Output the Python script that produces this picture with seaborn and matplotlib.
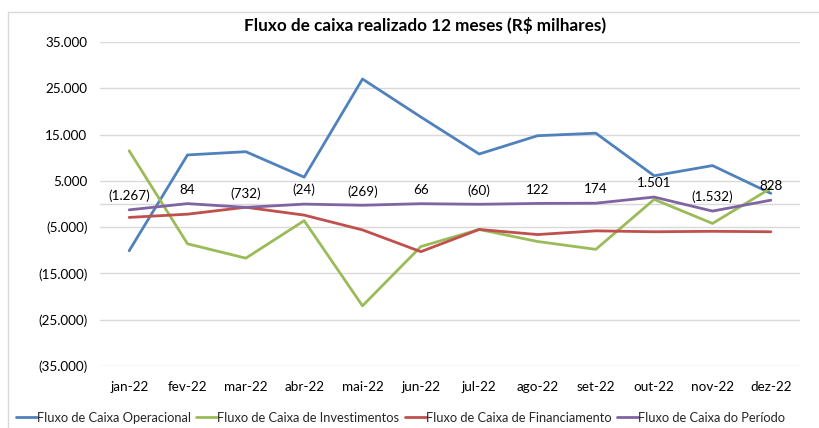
import matplotlib
matplotlib.use("Agg")
import matplotlib.pyplot as plt
import matplotlib.ticker as mticker
from matplotlib.lines import Line2D
import seaborn as sns
import pandas as pd

months = ["jan-22", "fev-22", "mar-22", "abr-22", "mai-22", "jun-22",
          "jul-22", "ago-22", "set-22", "out-22", "nov-22", "dez-22"]
operacional = [-10100, 10600, 11300, 5800, 27000, 18800, 10800, 14750, 15300, 6100, 8300, 2300]
investimentos = [11500, -8600, -11700, -3600, -22000, -9200, -5500, -8100, -9800, 1000, -4200, 3400]
financiamento = [-2900, -2200, -700, -2400, -5600, -10300, -5500, -6600, -5800, -6000, -5900, -6000]
periodo = [-1267, 84, -732, -24, -269, 66, -60, 122, 174, 1501, -1532, 828]

series_names = ["Fluxo de Caixa Operacional", "Fluxo de Caixa de Investimentos",
                "Fluxo de Caixa de Financiamento", "Fluxo de Caixa do Período"]
colors = ["#4F81BD", "#9BBB59", "#C0504D", "#8064A2"]
title = "Fluxo de caixa realizado 12 meses (R$ milhares)"
yticks = [35000, 25000, 15000, 5000, -5000, -15000, -25000, -35000]

rows = []
for name, vals in zip(series_names, [operacional, investimentos, financiamento, periodo]):
    for m, v in zip(months, vals):
        rows.append({"mes": m, "valor": v, "serie": name})
df = pd.DataFrame(rows)

sns.set_theme(style="white")
plt.rcParams["font.family"] = ["Lato", "DejaVu Sans"]

fig = plt.figure(figsize=(8.2, 4.28), dpi=100)
ax = fig.add_axes([100/820, 1-366/428, 700/820, (366-42)/428])

# gridlines
for t in yticks:
    ax.axhline(t, color="#D9D9D9", lw=1.0, zorder=0)
ax.axhline(0, color="#D9D9D9", lw=1.0, zorder=0)

sns.lineplot(data=df, x="mes", y="valor", hue="serie", hue_order=series_names,
             palette=colors, sort=False, linewidth=2.0, ax=ax, legend=False, zorder=3)

for i, v in enumerate(periodo):
    if v < 0:
        s = "({:,})".format(-v).replace(",", ".")
    else:
        s = "{:,}".format(v).replace(",", ".")
    ax.annotate(s, xy=(i, v), xytext=(0, 10), textcoords="offset points",
                ha="center", va="center", fontsize=9.7, color="#000000", zorder=5)

ax.set_xlim(-0.5, 11.5)
ax.set_ylim(-35000, 35000)
ax.set_yticks(yticks)
def fmt(v, pos):
    v = int(round(v))
    s = "{:,}".format(abs(v)).replace(",", ".")
    return "({})".format(s) if v < 0 else s
ax.yaxis.set_major_formatter(mticker.FuncFormatter(fmt))
ax.set_xlabel("")
ax.set_ylabel("")
for sp in ax.spines.values():
    sp.set_visible(False)
ax.tick_params(axis="y", length=0, pad=9, labelsize=9.7, labelcolor="#000000")
ax.tick_params(axis="x", length=0, pad=11, labelsize=9.7, labelcolor="#000000")
ax.grid(False)

fig.text(425/820, 1-25/428, title, ha="center", va="center", fontsize=12.3,
         fontweight="bold", color="#000000")

handles = [Line2D([0], [0], color=c, lw=2.0) for c in colors]
fig.legend(handles, series_names, loc="center left", bbox_to_anchor=(16/820, 1-418/428),
           ncol=4, frameon=False, fontsize=9.3, handlelength=1.6, handletextpad=0.0,
           columnspacing=0.45, borderaxespad=0, borderpad=0)

# chart border
fig.add_artist(Line2D([8/820, 1], [1-12/428, 1-12/428], color="#D9D9D9", lw=1.0))
fig.add_artist(Line2D([8/820, 8/820], [0, 1-12/428], color="#D9D9D9", lw=1.0))

fig.savefig("out.png", dpi=100, facecolor="white")
